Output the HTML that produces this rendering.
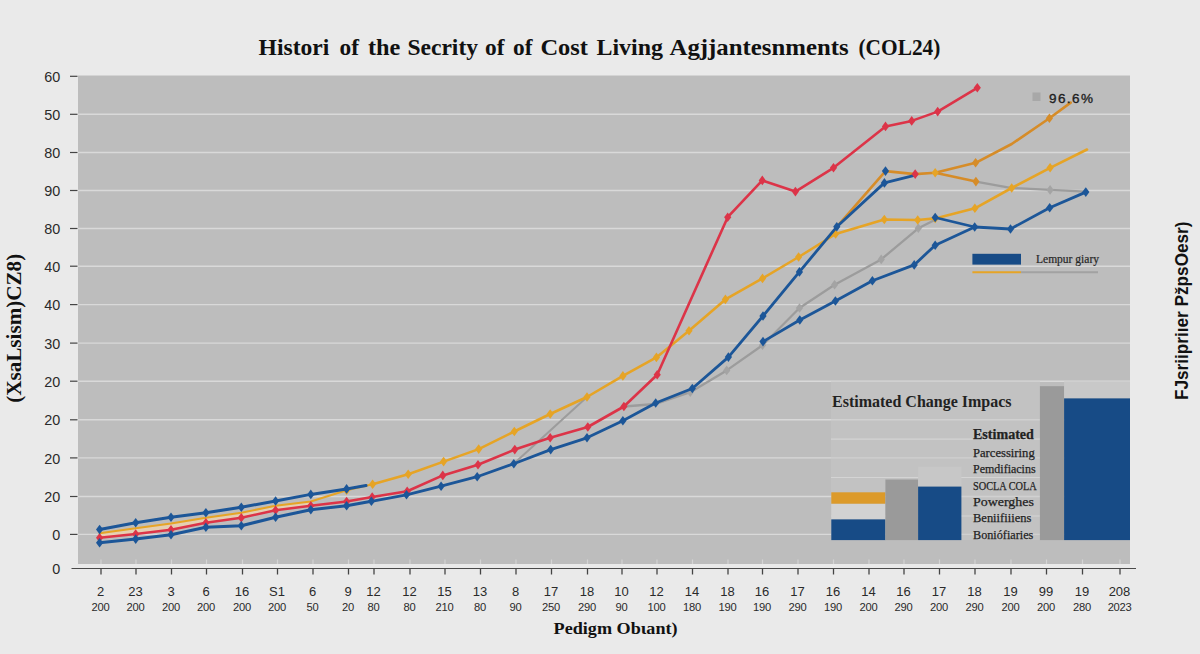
<!DOCTYPE html>
<html lang="en"><head><meta charset="utf-8"><title>History of Cost of Living Adjustments</title>
<style>html,body{margin:0;padding:0;background:#eaeaea;}body{width:1200px;height:654px;overflow:hidden;}svg{display:block;}
.sans{font-family:"Liberation Sans",sans-serif;}.serif{font-family:"Liberation Serif",serif;}</style></head><body>
<svg width="1200" height="654" viewBox="0 0 1200 654">
<rect width="1200" height="654" fill="#eaeaea"/>
<rect x="78" y="75.5" width="1052" height="488.5" fill="#bdbdbd"/>
<line x1="78" x2="1130" y1="114.3" y2="114.3" stroke="#d9d9d9" stroke-width="1.4"/>
<line x1="78" x2="1130" y1="152.5" y2="152.5" stroke="#d9d9d9" stroke-width="1.4"/>
<line x1="78" x2="1130" y1="190.5" y2="190.5" stroke="#d9d9d9" stroke-width="1.4"/>
<line x1="78" x2="1130" y1="228.5" y2="228.5" stroke="#d9d9d9" stroke-width="1.4"/>
<line x1="78" x2="1130" y1="266.2" y2="266.2" stroke="#d9d9d9" stroke-width="1.4"/>
<line x1="78" x2="1130" y1="304.6" y2="304.6" stroke="#d9d9d9" stroke-width="1.4"/>
<line x1="78" x2="1130" y1="343.1" y2="343.1" stroke="#d9d9d9" stroke-width="1.4"/>
<line x1="78" x2="1130" y1="381.2" y2="381.2" stroke="#d9d9d9" stroke-width="1.4"/>
<line x1="78" x2="1130" y1="419.8" y2="419.8" stroke="#d9d9d9" stroke-width="1.4"/>
<line x1="78" x2="1130" y1="457.9" y2="457.9" stroke="#d9d9d9" stroke-width="1.4"/>
<line x1="78" x2="1130" y1="496.5" y2="496.5" stroke="#d9d9d9" stroke-width="1.4"/>
<line x1="78" x2="1130" y1="534.4" y2="534.4" stroke="#d9d9d9" stroke-width="1.4"/>
<rect x="831" y="381" width="209" height="159" fill="#c8c8c8" opacity="0.5"/>
<line x1="831" x2="1040" y1="439.1" y2="439.1" stroke="#d9d9d9" stroke-width="1.2" opacity="0.8"/>
<line x1="831" x2="1040" y1="477.5" y2="477.5" stroke="#d9d9d9" stroke-width="1.2" opacity="0.8"/>
<line x1="831" x2="1040" y1="516.0" y2="516.0" stroke="#d9d9d9" stroke-width="1.2" opacity="0.8"/>
<rect x="831.3" y="503.7" width="54.1" height="15.7" fill="#d2d2d2"/>
<rect x="831.3" y="519.4" width="54.1" height="20.7" fill="#174b86"/>
<rect x="831.3" y="492.3" width="54.1" height="11.4" fill="#dc9a2a"/>
<rect x="885.4" y="479.5" width="32.7" height="60.6" fill="#9a9a9a"/>
<rect x="918.1" y="466.7" width="43.3" height="19.9" fill="#c7c7c7"/>
<rect x="918.1" y="486.6" width="43.3" height="53.5" fill="#174b86"/>
<rect x="1039.9" y="386.2" width="24.2" height="153.9" fill="#9a9a9a"/>
<rect x="1064.1" y="381.4" width="65.9" height="17.0" fill="#c8c8c8"/>
<rect x="1064.1" y="398.4" width="65.9" height="141.7" fill="#174b86"/>
<line x1="101.0" x2="101.0" y1="559.5" y2="564" stroke="#d4d4d4" stroke-width="1.2"/>
<line x1="136.0" x2="136.0" y1="559.5" y2="564" stroke="#d4d4d4" stroke-width="1.2"/>
<line x1="171.5" x2="171.5" y1="559.5" y2="564" stroke="#d4d4d4" stroke-width="1.2"/>
<line x1="206.5" x2="206.5" y1="559.5" y2="564" stroke="#d4d4d4" stroke-width="1.2"/>
<line x1="242.5" x2="242.5" y1="559.5" y2="564" stroke="#d4d4d4" stroke-width="1.2"/>
<line x1="277.5" x2="277.5" y1="559.5" y2="564" stroke="#d4d4d4" stroke-width="1.2"/>
<line x1="313.0" x2="313.0" y1="559.5" y2="564" stroke="#d4d4d4" stroke-width="1.2"/>
<line x1="348.5" x2="348.5" y1="559.5" y2="564" stroke="#d4d4d4" stroke-width="1.2"/>
<line x1="374.0" x2="374.0" y1="559.5" y2="564" stroke="#d4d4d4" stroke-width="1.2"/>
<line x1="410.0" x2="410.0" y1="559.5" y2="564" stroke="#d4d4d4" stroke-width="1.2"/>
<line x1="445.0" x2="445.0" y1="559.5" y2="564" stroke="#d4d4d4" stroke-width="1.2"/>
<line x1="480.5" x2="480.5" y1="559.5" y2="564" stroke="#d4d4d4" stroke-width="1.2"/>
<line x1="516.0" x2="516.0" y1="559.5" y2="564" stroke="#d4d4d4" stroke-width="1.2"/>
<line x1="551.5" x2="551.5" y1="559.5" y2="564" stroke="#d4d4d4" stroke-width="1.2"/>
<line x1="587.5" x2="587.5" y1="559.5" y2="564" stroke="#d4d4d4" stroke-width="1.2"/>
<line x1="622.0" x2="622.0" y1="559.5" y2="564" stroke="#d4d4d4" stroke-width="1.2"/>
<line x1="657.0" x2="657.0" y1="559.5" y2="564" stroke="#d4d4d4" stroke-width="1.2"/>
<line x1="692.5" x2="692.5" y1="559.5" y2="564" stroke="#d4d4d4" stroke-width="1.2"/>
<line x1="728.0" x2="728.0" y1="559.5" y2="564" stroke="#d4d4d4" stroke-width="1.2"/>
<line x1="762.5" x2="762.5" y1="559.5" y2="564" stroke="#d4d4d4" stroke-width="1.2"/>
<line x1="798.0" x2="798.0" y1="559.5" y2="564" stroke="#d4d4d4" stroke-width="1.2"/>
<line x1="833.5" x2="833.5" y1="559.5" y2="564" stroke="#d4d4d4" stroke-width="1.2"/>
<line x1="869.0" x2="869.0" y1="559.5" y2="564" stroke="#d4d4d4" stroke-width="1.2"/>
<line x1="904.0" x2="904.0" y1="559.5" y2="564" stroke="#d4d4d4" stroke-width="1.2"/>
<line x1="939.5" x2="939.5" y1="559.5" y2="564" stroke="#d4d4d4" stroke-width="1.2"/>
<line x1="975.0" x2="975.0" y1="559.5" y2="564" stroke="#d4d4d4" stroke-width="1.2"/>
<line x1="1011.0" x2="1011.0" y1="559.5" y2="564" stroke="#d4d4d4" stroke-width="1.2"/>
<line x1="1046.5" x2="1046.5" y1="559.5" y2="564" stroke="#d4d4d4" stroke-width="1.2"/>
<line x1="1082.5" x2="1082.5" y1="559.5" y2="564" stroke="#d4d4d4" stroke-width="1.2"/>
<line x1="1120.0" x2="1120.0" y1="559.5" y2="564" stroke="#d4d4d4" stroke-width="1.2"/>
<line x1="71.5" x2="1136" y1="568.5" y2="568.5" stroke="#4a4a4a" stroke-width="1.1"/>
<line x1="101.0" x2="101.0" y1="568.5" y2="574.5" stroke="#444" stroke-width="1.3"/>
<line x1="136.0" x2="136.0" y1="568.5" y2="574.5" stroke="#444" stroke-width="1.3"/>
<line x1="171.5" x2="171.5" y1="568.5" y2="574.5" stroke="#444" stroke-width="1.3"/>
<line x1="206.5" x2="206.5" y1="568.5" y2="574.5" stroke="#444" stroke-width="1.3"/>
<line x1="242.5" x2="242.5" y1="568.5" y2="574.5" stroke="#444" stroke-width="1.3"/>
<line x1="277.5" x2="277.5" y1="568.5" y2="574.5" stroke="#444" stroke-width="1.3"/>
<line x1="313.0" x2="313.0" y1="568.5" y2="574.5" stroke="#444" stroke-width="1.3"/>
<line x1="348.5" x2="348.5" y1="568.5" y2="574.5" stroke="#444" stroke-width="1.3"/>
<line x1="374.0" x2="374.0" y1="568.5" y2="574.5" stroke="#444" stroke-width="1.3"/>
<line x1="410.0" x2="410.0" y1="568.5" y2="574.5" stroke="#444" stroke-width="1.3"/>
<line x1="445.0" x2="445.0" y1="568.5" y2="574.5" stroke="#444" stroke-width="1.3"/>
<line x1="480.5" x2="480.5" y1="568.5" y2="574.5" stroke="#444" stroke-width="1.3"/>
<line x1="516.0" x2="516.0" y1="568.5" y2="574.5" stroke="#444" stroke-width="1.3"/>
<line x1="551.5" x2="551.5" y1="568.5" y2="574.5" stroke="#444" stroke-width="1.3"/>
<line x1="587.5" x2="587.5" y1="568.5" y2="574.5" stroke="#444" stroke-width="1.3"/>
<line x1="622.0" x2="622.0" y1="568.5" y2="574.5" stroke="#444" stroke-width="1.3"/>
<line x1="657.0" x2="657.0" y1="568.5" y2="574.5" stroke="#444" stroke-width="1.3"/>
<line x1="692.5" x2="692.5" y1="568.5" y2="574.5" stroke="#444" stroke-width="1.3"/>
<line x1="728.0" x2="728.0" y1="568.5" y2="574.5" stroke="#444" stroke-width="1.3"/>
<line x1="762.5" x2="762.5" y1="568.5" y2="574.5" stroke="#444" stroke-width="1.3"/>
<line x1="798.0" x2="798.0" y1="568.5" y2="574.5" stroke="#444" stroke-width="1.3"/>
<line x1="833.5" x2="833.5" y1="568.5" y2="574.5" stroke="#444" stroke-width="1.3"/>
<line x1="869.0" x2="869.0" y1="568.5" y2="574.5" stroke="#444" stroke-width="1.3"/>
<line x1="904.0" x2="904.0" y1="568.5" y2="574.5" stroke="#444" stroke-width="1.3"/>
<line x1="939.5" x2="939.5" y1="568.5" y2="574.5" stroke="#444" stroke-width="1.3"/>
<line x1="975.0" x2="975.0" y1="568.5" y2="574.5" stroke="#444" stroke-width="1.3"/>
<line x1="1011.0" x2="1011.0" y1="568.5" y2="574.5" stroke="#444" stroke-width="1.3"/>
<line x1="1046.5" x2="1046.5" y1="568.5" y2="574.5" stroke="#444" stroke-width="1.3"/>
<line x1="1082.5" x2="1082.5" y1="568.5" y2="574.5" stroke="#444" stroke-width="1.3"/>
<line x1="1120.0" x2="1120.0" y1="568.5" y2="574.5" stroke="#444" stroke-width="1.3"/>
<line x1="70" x2="77.5" y1="76.3" y2="76.3" stroke="#444" stroke-width="1.2"/>
<text class="sans" x="60.2" y="81.9" font-size="14.4" fill="#2a2a2a" text-anchor="end">60</text>
<line x1="70" x2="77.5" y1="114.3" y2="114.3" stroke="#444" stroke-width="1.2"/>
<text class="sans" x="60.2" y="119.9" font-size="14.4" fill="#2a2a2a" text-anchor="end">50</text>
<line x1="70" x2="77.5" y1="152.5" y2="152.5" stroke="#444" stroke-width="1.2"/>
<text class="sans" x="60.2" y="158.1" font-size="14.4" fill="#2a2a2a" text-anchor="end">80</text>
<line x1="70" x2="77.5" y1="190.5" y2="190.5" stroke="#444" stroke-width="1.2"/>
<text class="sans" x="60.2" y="196.1" font-size="14.4" fill="#2a2a2a" text-anchor="end">90</text>
<line x1="70" x2="77.5" y1="228.5" y2="228.5" stroke="#444" stroke-width="1.2"/>
<text class="sans" x="60.2" y="234.1" font-size="14.4" fill="#2a2a2a" text-anchor="end">80</text>
<line x1="70" x2="77.5" y1="266.2" y2="266.2" stroke="#444" stroke-width="1.2"/>
<text class="sans" x="60.2" y="271.8" font-size="14.4" fill="#2a2a2a" text-anchor="end">40</text>
<line x1="70" x2="77.5" y1="304.6" y2="304.6" stroke="#444" stroke-width="1.2"/>
<text class="sans" x="60.2" y="310.2" font-size="14.4" fill="#2a2a2a" text-anchor="end">40</text>
<line x1="70" x2="77.5" y1="343.1" y2="343.1" stroke="#444" stroke-width="1.2"/>
<text class="sans" x="60.2" y="348.7" font-size="14.4" fill="#2a2a2a" text-anchor="end">30</text>
<line x1="70" x2="77.5" y1="381.2" y2="381.2" stroke="#444" stroke-width="1.2"/>
<text class="sans" x="60.2" y="386.8" font-size="14.4" fill="#2a2a2a" text-anchor="end">20</text>
<line x1="70" x2="77.5" y1="419.8" y2="419.8" stroke="#444" stroke-width="1.2"/>
<text class="sans" x="60.2" y="425.4" font-size="14.4" fill="#2a2a2a" text-anchor="end">20</text>
<line x1="70" x2="77.5" y1="457.9" y2="457.9" stroke="#444" stroke-width="1.2"/>
<text class="sans" x="60.2" y="463.5" font-size="14.4" fill="#2a2a2a" text-anchor="end">20</text>
<line x1="70" x2="77.5" y1="496.5" y2="496.5" stroke="#444" stroke-width="1.2"/>
<text class="sans" x="60.2" y="502.1" font-size="14.4" fill="#2a2a2a" text-anchor="end">20</text>
<line x1="70" x2="77.5" y1="534.4" y2="534.4" stroke="#444" stroke-width="1.2"/>
<text class="sans" x="60.2" y="540.0" font-size="14.4" fill="#2a2a2a" text-anchor="end">0</text>
<text class="sans" x="60.2" y="574.1" font-size="14.4" fill="#2a2a2a" text-anchor="end">0</text>
<text class="sans" x="100.5" y="596.2" font-size="13" fill="#2a2a2a" text-anchor="middle">2</text>
<text class="sans" x="100.5" y="611.3" font-size="11.2" fill="#2a2a2a" text-anchor="middle" letter-spacing="-0.3">200</text>
<text class="sans" x="135.5" y="596.2" font-size="13" fill="#2a2a2a" text-anchor="middle">23</text>
<text class="sans" x="135.5" y="611.3" font-size="11.2" fill="#2a2a2a" text-anchor="middle" letter-spacing="-0.3">200</text>
<text class="sans" x="171.0" y="596.2" font-size="13" fill="#2a2a2a" text-anchor="middle">3</text>
<text class="sans" x="171.0" y="611.3" font-size="11.2" fill="#2a2a2a" text-anchor="middle" letter-spacing="-0.3">200</text>
<text class="sans" x="206.0" y="596.2" font-size="13" fill="#2a2a2a" text-anchor="middle">6</text>
<text class="sans" x="206.0" y="611.3" font-size="11.2" fill="#2a2a2a" text-anchor="middle" letter-spacing="-0.3">200</text>
<text class="sans" x="242.0" y="596.2" font-size="13" fill="#2a2a2a" text-anchor="middle">16</text>
<text class="sans" x="242.0" y="611.3" font-size="11.2" fill="#2a2a2a" text-anchor="middle" letter-spacing="-0.3">200</text>
<text class="sans" x="277.0" y="596.2" font-size="13" fill="#2a2a2a" text-anchor="middle">S1</text>
<text class="sans" x="277.0" y="611.3" font-size="11.2" fill="#2a2a2a" text-anchor="middle" letter-spacing="-0.3">200</text>
<text class="sans" x="312.5" y="596.2" font-size="13" fill="#2a2a2a" text-anchor="middle">6</text>
<text class="sans" x="312.5" y="611.3" font-size="11.2" fill="#2a2a2a" text-anchor="middle" letter-spacing="-0.3">50</text>
<text class="sans" x="348.0" y="596.2" font-size="13" fill="#2a2a2a" text-anchor="middle">9</text>
<text class="sans" x="348.0" y="611.3" font-size="11.2" fill="#2a2a2a" text-anchor="middle" letter-spacing="-0.3">20</text>
<text class="sans" x="373.5" y="596.2" font-size="13" fill="#2a2a2a" text-anchor="middle">12</text>
<text class="sans" x="373.5" y="611.3" font-size="11.2" fill="#2a2a2a" text-anchor="middle" letter-spacing="-0.3">80</text>
<text class="sans" x="409.5" y="596.2" font-size="13" fill="#2a2a2a" text-anchor="middle">12</text>
<text class="sans" x="409.5" y="611.3" font-size="11.2" fill="#2a2a2a" text-anchor="middle" letter-spacing="-0.3">80</text>
<text class="sans" x="444.5" y="596.2" font-size="13" fill="#2a2a2a" text-anchor="middle">15</text>
<text class="sans" x="444.5" y="611.3" font-size="11.2" fill="#2a2a2a" text-anchor="middle" letter-spacing="-0.3">210</text>
<text class="sans" x="480.0" y="596.2" font-size="13" fill="#2a2a2a" text-anchor="middle">13</text>
<text class="sans" x="480.0" y="611.3" font-size="11.2" fill="#2a2a2a" text-anchor="middle" letter-spacing="-0.3">80</text>
<text class="sans" x="515.5" y="596.2" font-size="13" fill="#2a2a2a" text-anchor="middle">8</text>
<text class="sans" x="515.5" y="611.3" font-size="11.2" fill="#2a2a2a" text-anchor="middle" letter-spacing="-0.3">90</text>
<text class="sans" x="551.0" y="596.2" font-size="13" fill="#2a2a2a" text-anchor="middle">17</text>
<text class="sans" x="551.0" y="611.3" font-size="11.2" fill="#2a2a2a" text-anchor="middle" letter-spacing="-0.3">250</text>
<text class="sans" x="587.0" y="596.2" font-size="13" fill="#2a2a2a" text-anchor="middle">18</text>
<text class="sans" x="587.0" y="611.3" font-size="11.2" fill="#2a2a2a" text-anchor="middle" letter-spacing="-0.3">290</text>
<text class="sans" x="621.5" y="596.2" font-size="13" fill="#2a2a2a" text-anchor="middle">10</text>
<text class="sans" x="621.5" y="611.3" font-size="11.2" fill="#2a2a2a" text-anchor="middle" letter-spacing="-0.3">90</text>
<text class="sans" x="656.5" y="596.2" font-size="13" fill="#2a2a2a" text-anchor="middle">12</text>
<text class="sans" x="656.5" y="611.3" font-size="11.2" fill="#2a2a2a" text-anchor="middle" letter-spacing="-0.3">100</text>
<text class="sans" x="692.0" y="596.2" font-size="13" fill="#2a2a2a" text-anchor="middle">14</text>
<text class="sans" x="692.0" y="611.3" font-size="11.2" fill="#2a2a2a" text-anchor="middle" letter-spacing="-0.3">180</text>
<text class="sans" x="727.5" y="596.2" font-size="13" fill="#2a2a2a" text-anchor="middle">18</text>
<text class="sans" x="727.5" y="611.3" font-size="11.2" fill="#2a2a2a" text-anchor="middle" letter-spacing="-0.3">190</text>
<text class="sans" x="762.0" y="596.2" font-size="13" fill="#2a2a2a" text-anchor="middle">16</text>
<text class="sans" x="762.0" y="611.3" font-size="11.2" fill="#2a2a2a" text-anchor="middle" letter-spacing="-0.3">190</text>
<text class="sans" x="797.5" y="596.2" font-size="13" fill="#2a2a2a" text-anchor="middle">17</text>
<text class="sans" x="797.5" y="611.3" font-size="11.2" fill="#2a2a2a" text-anchor="middle" letter-spacing="-0.3">290</text>
<text class="sans" x="833.0" y="596.2" font-size="13" fill="#2a2a2a" text-anchor="middle">16</text>
<text class="sans" x="833.0" y="611.3" font-size="11.2" fill="#2a2a2a" text-anchor="middle" letter-spacing="-0.3">190</text>
<text class="sans" x="868.5" y="596.2" font-size="13" fill="#2a2a2a" text-anchor="middle">14</text>
<text class="sans" x="868.5" y="611.3" font-size="11.2" fill="#2a2a2a" text-anchor="middle" letter-spacing="-0.3">200</text>
<text class="sans" x="903.5" y="596.2" font-size="13" fill="#2a2a2a" text-anchor="middle">16</text>
<text class="sans" x="903.5" y="611.3" font-size="11.2" fill="#2a2a2a" text-anchor="middle" letter-spacing="-0.3">290</text>
<text class="sans" x="939.0" y="596.2" font-size="13" fill="#2a2a2a" text-anchor="middle">17</text>
<text class="sans" x="939.0" y="611.3" font-size="11.2" fill="#2a2a2a" text-anchor="middle" letter-spacing="-0.3">200</text>
<text class="sans" x="974.5" y="596.2" font-size="13" fill="#2a2a2a" text-anchor="middle">18</text>
<text class="sans" x="974.5" y="611.3" font-size="11.2" fill="#2a2a2a" text-anchor="middle" letter-spacing="-0.3">290</text>
<text class="sans" x="1010.5" y="596.2" font-size="13" fill="#2a2a2a" text-anchor="middle">19</text>
<text class="sans" x="1010.5" y="611.3" font-size="11.2" fill="#2a2a2a" text-anchor="middle" letter-spacing="-0.3">200</text>
<text class="sans" x="1046.0" y="596.2" font-size="13" fill="#2a2a2a" text-anchor="middle">99</text>
<text class="sans" x="1046.0" y="611.3" font-size="11.2" fill="#2a2a2a" text-anchor="middle" letter-spacing="-0.3">200</text>
<text class="sans" x="1082.0" y="596.2" font-size="13" fill="#2a2a2a" text-anchor="middle">19</text>
<text class="sans" x="1082.0" y="611.3" font-size="11.2" fill="#2a2a2a" text-anchor="middle" letter-spacing="-0.3">280</text>
<text class="sans" x="1119.5" y="596.2" font-size="13" fill="#2a2a2a" text-anchor="middle">208</text>
<text class="sans" x="1119.5" y="611.3" font-size="11.2" fill="#2a2a2a" text-anchor="middle" letter-spacing="-0.3">2023</text>
<polyline fill="none" stroke="#9c9c9c" stroke-width="2.0" stroke-linejoin="round" stroke-linecap="round" points="513.8,463.7 587.0,397.0"/>
<polyline fill="none" stroke="#9c9c9c" stroke-width="2.3" stroke-linejoin="round" stroke-linecap="round" points="623.9,406.5 655.7,404.0 690.3,392.2 726.7,370.4 762.5,345.3 799.5,308.0 834.6,284.7 881.2,259.4 918.3,228.3 935.2,219.7"/>
<polyline fill="none" stroke="#9c9c9c" stroke-width="2.3" stroke-linejoin="round" stroke-linecap="round" points="975.9,181.6 1010.5,187.9 1050.1,189.9 1085.7,191.6"/>
<path fill="#a4a4a4" d="M690.3 387.4L693.9 392.2L690.3 397.0L686.7 392.2Z"/><path fill="#a4a4a4" d="M726.7 365.6L730.3 370.4L726.7 375.2L723.1 370.4Z"/><path fill="#a4a4a4" d="M762.5 340.5L766.1 345.3L762.5 350.1L758.9 345.3Z"/><path fill="#a4a4a4" d="M799.5 303.2L803.1 308.0L799.5 312.8L795.9 308.0Z"/><path fill="#a4a4a4" d="M834.6 279.9L838.2 284.7L834.6 289.5L831.0 284.7Z"/><path fill="#a4a4a4" d="M881.2 254.6L884.8 259.4L881.2 264.2L877.6 259.4Z"/><path fill="#a4a4a4" d="M918.3 223.5L921.9 228.3L918.3 233.1L914.7 228.3Z"/>
<path fill="#a4a4a4" d="M1050.1 185.1L1053.7 189.9L1050.1 194.7L1046.5 189.9Z"/>
<polygon fill="#ecd2b0" opacity="0.85" points="99.6,533.3 135.7,528.3 171.0,523.5 205.9,517.8 241.3,512.7 275.6,505.7 310.8,501.5 310.8,505.7 275.6,510.2 241.3,517.8 205.9,522.8 171.0,529.8 135.7,534.0 99.6,537.8"/>
<polyline fill="none" stroke="#e6a426" stroke-width="2.0" stroke-linejoin="round" stroke-linecap="round" points="99.6,533.3 135.7,528.3 171.0,523.5 205.9,517.8 241.3,512.7 275.6,505.7 310.8,501.5 346.6,490.2 372.6,484.2"/>
<polyline fill="none" stroke="#e6a426" stroke-width="2.6" stroke-linejoin="round" stroke-linecap="round" points="372.6,484.2 408.2,474.2 443.6,461.6 478.7,449.1 514.3,431.5 550.2,414.0 587.0,397.0 622.9,375.9 656.4,357.4 689.0,330.8 725.4,299.4 762.5,278.4 798.6,257.0 835.6,234.0 884.3,219.5 917.7,220.0 935.2,218.4 974.9,208.3 1011.7,188.0 1050.1,167.8 1087.0,149.5"/>
<path fill="#e6a426" d="M346.6 485.4L350.2 490.2L346.6 495.0L343.0 490.2Z"/><path fill="#e6a426" d="M372.6 479.4L376.2 484.2L372.6 489.0L369.0 484.2Z"/><path fill="#e6a426" d="M408.2 469.4L411.8 474.2L408.2 479.0L404.6 474.2Z"/><path fill="#e6a426" d="M443.6 456.8L447.2 461.6L443.6 466.4L440.0 461.6Z"/><path fill="#e6a426" d="M478.7 444.3L482.3 449.1L478.7 453.9L475.1 449.1Z"/><path fill="#e6a426" d="M514.3 426.7L517.9 431.5L514.3 436.3L510.7 431.5Z"/><path fill="#e6a426" d="M550.2 409.2L553.8 414.0L550.2 418.8L546.6 414.0Z"/><path fill="#e6a426" d="M587.0 392.2L590.6 397.0L587.0 401.8L583.4 397.0Z"/><path fill="#e6a426" d="M622.9 371.1L626.5 375.9L622.9 380.7L619.3 375.9Z"/><path fill="#e6a426" d="M656.4 352.6L660.0 357.4L656.4 362.2L652.8 357.4Z"/><path fill="#e6a426" d="M689.0 326.0L692.6 330.8L689.0 335.6L685.4 330.8Z"/><path fill="#e6a426" d="M725.4 294.6L729.0 299.4L725.4 304.2L721.8 299.4Z"/><path fill="#e6a426" d="M762.5 273.6L766.1 278.4L762.5 283.2L758.9 278.4Z"/><path fill="#e6a426" d="M798.6 252.2L802.2 257.0L798.6 261.8L795.0 257.0Z"/><path fill="#e6a426" d="M835.6 229.2L839.2 234.0L835.6 238.8L832.0 234.0Z"/><path fill="#e6a426" d="M884.3 214.7L887.9 219.5L884.3 224.3L880.7 219.5Z"/><path fill="#e6a426" d="M917.7 215.2L921.3 220.0L917.7 224.8L914.1 220.0Z"/><path fill="#e6a426" d="M935.2 213.6L938.8 218.4L935.2 223.2L931.6 218.4Z"/><path fill="#e6a426" d="M974.9 203.5L978.5 208.3L974.9 213.1L971.3 208.3Z"/><path fill="#e6a426" d="M1011.7 183.2L1015.3 188.0L1011.7 192.8L1008.1 188.0Z"/><path fill="#e6a426" d="M1050.1 163.0L1053.7 167.8L1050.1 172.6L1046.5 167.8Z"/>
<polyline fill="none" stroke="#d68c28" stroke-width="2.6" stroke-linejoin="round" stroke-linecap="round" points="935.2,172.8 975.9,181.6"/>
<polyline fill="none" stroke="#d68c28" stroke-width="2.6" stroke-linejoin="round" stroke-linecap="round" points="836.8,226.8 885.5,171.1 915.2,174.1 935.2,172.8 975.6,162.8 1011.7,144.0 1049.4,118.2 1070.7,102.6"/>
<polyline fill="none" stroke="#dc3448" stroke-width="2.6" stroke-linejoin="round" stroke-linecap="round" points="99.6,537.8 135.7,534.0 171.0,529.8 205.9,522.8 241.3,517.8 275.6,510.2 310.8,505.7 346.6,501.5 372.2,497.0 407.2,491.2 442.8,475.4 478.0,464.7 514.8,449.6 550.2,437.8 587.8,427.0 623.9,406.5 657.2,374.7 727.7,217.2 762.3,180.4 795.4,191.6 833.5,167.8 885.5,126.4 911.7,120.9 937.7,111.6 977.3,87.8"/>
<path fill="#dc3448" d="M99.6 533.0L103.2 537.8L99.6 542.6L96.0 537.8Z"/><path fill="#dc3448" d="M135.7 529.2L139.3 534.0L135.7 538.8L132.1 534.0Z"/><path fill="#dc3448" d="M171.0 525.0L174.6 529.8L171.0 534.6L167.4 529.8Z"/><path fill="#dc3448" d="M205.9 518.0L209.5 522.8L205.9 527.6L202.3 522.8Z"/><path fill="#dc3448" d="M241.3 513.0L244.9 517.8L241.3 522.6L237.7 517.8Z"/><path fill="#dc3448" d="M275.6 505.4L279.2 510.2L275.6 515.0L272.0 510.2Z"/><path fill="#dc3448" d="M310.8 500.9L314.4 505.7L310.8 510.5L307.2 505.7Z"/><path fill="#dc3448" d="M346.6 496.7L350.2 501.5L346.6 506.3L343.0 501.5Z"/><path fill="#dc3448" d="M372.2 492.2L375.8 497.0L372.2 501.8L368.6 497.0Z"/><path fill="#dc3448" d="M407.2 486.4L410.8 491.2L407.2 496.0L403.6 491.2Z"/><path fill="#dc3448" d="M442.8 470.6L446.4 475.4L442.8 480.2L439.2 475.4Z"/><path fill="#dc3448" d="M478.0 459.9L481.6 464.7L478.0 469.5L474.4 464.7Z"/><path fill="#dc3448" d="M514.8 444.8L518.4 449.6L514.8 454.4L511.2 449.6Z"/><path fill="#dc3448" d="M550.2 433.0L553.8 437.8L550.2 442.6L546.6 437.8Z"/><path fill="#dc3448" d="M587.8 422.2L591.4 427.0L587.8 431.8L584.2 427.0Z"/><path fill="#dc3448" d="M623.9 401.7L627.5 406.5L623.9 411.3L620.3 406.5Z"/><path fill="#dc3448" d="M657.2 369.9L660.8 374.7L657.2 379.5L653.6 374.7Z"/><path fill="#dc3448" d="M727.7 212.4L731.3 217.2L727.7 222.0L724.1 217.2Z"/><path fill="#dc3448" d="M762.3 175.6L765.9 180.4L762.3 185.2L758.7 180.4Z"/><path fill="#dc3448" d="M795.4 186.8L799.0 191.6L795.4 196.4L791.8 191.6Z"/><path fill="#dc3448" d="M833.5 163.0L837.1 167.8L833.5 172.6L829.9 167.8Z"/><path fill="#dc3448" d="M885.5 121.6L889.1 126.4L885.5 131.2L881.9 126.4Z"/><path fill="#dc3448" d="M911.7 116.1L915.3 120.9L911.7 125.7L908.1 120.9Z"/><path fill="#dc3448" d="M937.7 106.8L941.3 111.6L937.7 116.4L934.1 111.6Z"/><path fill="#dc3448" d="M977.3 83.0L980.9 87.8L977.3 92.6L973.7 87.8Z"/>
<polyline fill="none" stroke="#1c5698" stroke-width="3.0" stroke-linejoin="round" stroke-linecap="round" points="99.6,529.5 135.7,522.8 171.0,517.3 205.9,512.7 241.3,507.2 275.6,501.0 310.8,494.4 346.6,488.9 366.0,485.5"/>
<path fill="#1c5698" d="M99.6 524.7L103.2 529.5L99.6 534.3L96.0 529.5Z"/><path fill="#1c5698" d="M135.7 518.0L139.3 522.8L135.7 527.6L132.1 522.8Z"/><path fill="#1c5698" d="M171.0 512.5L174.6 517.3L171.0 522.1L167.4 517.3Z"/><path fill="#1c5698" d="M205.9 507.9L209.5 512.7L205.9 517.5L202.3 512.7Z"/><path fill="#1c5698" d="M241.3 502.4L244.9 507.2L241.3 512.0L237.7 507.2Z"/><path fill="#1c5698" d="M275.6 496.2L279.2 501.0L275.6 505.8L272.0 501.0Z"/><path fill="#1c5698" d="M310.8 489.6L314.4 494.4L310.8 499.2L307.2 494.4Z"/><path fill="#1c5698" d="M346.6 484.1L350.2 488.9L346.6 493.7L343.0 488.9Z"/>
<polyline fill="none" stroke="#1c5698" stroke-width="2.8" stroke-linejoin="round" stroke-linecap="round" points="763.0,341.6 799.8,320.0 835.4,301.0 872.4,280.8 914.2,264.9 935.2,245.2 974.7,227.0 1010.5,229.0 1049.7,207.7 1085.8,192.1"/>
<polyline fill="none" stroke="#1c5698" stroke-width="2.8" stroke-linejoin="round" stroke-linecap="round" points="935.2,217.5 974.7,227.0"/>
<path fill="#1c5698" d="M763.0 336.8L766.6 341.6L763.0 346.4L759.4 341.6Z"/><path fill="#1c5698" d="M799.8 315.2L803.4 320.0L799.8 324.8L796.2 320.0Z"/><path fill="#1c5698" d="M835.4 296.2L839.0 301.0L835.4 305.8L831.8 301.0Z"/><path fill="#1c5698" d="M872.4 276.0L876.0 280.8L872.4 285.6L868.8 280.8Z"/><path fill="#1c5698" d="M914.2 260.1L917.8 264.9L914.2 269.7L910.6 264.9Z"/><path fill="#1c5698" d="M935.2 240.4L938.8 245.2L935.2 250.0L931.6 245.2Z"/><path fill="#1c5698" d="M974.7 222.2L978.3 227.0L974.7 231.8L971.1 227.0Z"/><path fill="#1c5698" d="M1010.5 224.2L1014.1 229.0L1010.5 233.8L1006.9 229.0Z"/><path fill="#1c5698" d="M1049.7 202.9L1053.3 207.7L1049.7 212.5L1046.1 207.7Z"/><path fill="#1c5698" d="M1085.8 187.3L1089.4 192.1L1085.8 196.9L1082.2 192.1Z"/>
<polyline fill="none" stroke="#1c5698" stroke-width="3.0" stroke-linejoin="round" stroke-linecap="round" points="99.6,542.8 135.7,539.1 171.0,534.8 205.9,527.3 241.3,525.8 275.6,517.3 310.8,509.7 346.6,505.7 371.4,501.3"/>
<polyline fill="none" stroke="#1c5698" stroke-width="2.8" stroke-linejoin="round" stroke-linecap="round" points="371.4,501.3 406.5,494.8 441.1,486.2 477.2,476.7 513.8,463.7 550.7,449.6 587.0,437.8 622.9,420.8 655.7,403.0 692.3,388.5 728.4,357.1 763.0,316.0 799.4,271.9 836.8,226.8 884.4,182.9 914.5,175.3"/>
<path fill="#1c5698" d="M99.6 538.0L103.2 542.8L99.6 547.6L96.0 542.8Z"/><path fill="#1c5698" d="M135.7 534.3L139.3 539.1L135.7 543.9L132.1 539.1Z"/><path fill="#1c5698" d="M171.0 530.0L174.6 534.8L171.0 539.6L167.4 534.8Z"/><path fill="#1c5698" d="M205.9 522.5L209.5 527.3L205.9 532.1L202.3 527.3Z"/><path fill="#1c5698" d="M241.3 521.0L244.9 525.8L241.3 530.6L237.7 525.8Z"/><path fill="#1c5698" d="M275.6 512.5L279.2 517.3L275.6 522.1L272.0 517.3Z"/><path fill="#1c5698" d="M310.8 504.9L314.4 509.7L310.8 514.5L307.2 509.7Z"/><path fill="#1c5698" d="M346.6 500.9L350.2 505.7L346.6 510.5L343.0 505.7Z"/><path fill="#1c5698" d="M371.4 496.5L375.0 501.3L371.4 506.1L367.8 501.3Z"/><path fill="#1c5698" d="M406.5 490.0L410.1 494.8L406.5 499.6L402.9 494.8Z"/><path fill="#1c5698" d="M441.1 481.4L444.7 486.2L441.1 491.0L437.5 486.2Z"/><path fill="#1c5698" d="M477.2 471.9L480.8 476.7L477.2 481.5L473.6 476.7Z"/><path fill="#1c5698" d="M513.8 458.9L517.4 463.7L513.8 468.5L510.2 463.7Z"/><path fill="#1c5698" d="M550.7 444.8L554.3 449.6L550.7 454.4L547.1 449.6Z"/><path fill="#1c5698" d="M587.0 433.0L590.6 437.8L587.0 442.6L583.4 437.8Z"/><path fill="#1c5698" d="M622.9 416.0L626.5 420.8L622.9 425.6L619.3 420.8Z"/><path fill="#1c5698" d="M655.7 398.2L659.3 403.0L655.7 407.8L652.1 403.0Z"/><path fill="#1c5698" d="M692.3 383.7L695.9 388.5L692.3 393.3L688.7 388.5Z"/><path fill="#1c5698" d="M728.4 352.3L732.0 357.1L728.4 361.9L724.8 357.1Z"/><path fill="#1c5698" d="M763.0 311.2L766.6 316.0L763.0 320.8L759.4 316.0Z"/><path fill="#1c5698" d="M799.4 267.1L803.0 271.9L799.4 276.7L795.8 271.9Z"/><path fill="#1c5698" d="M836.8 222.0L840.4 226.8L836.8 231.6L833.2 226.8Z"/><path fill="#1c5698" d="M884.4 178.1L888.0 182.9L884.4 187.7L880.8 182.9Z"/>
<path fill="#d68c28" d="M975.6 158.0L979.2 162.8L975.6 167.6L972.0 162.8Z"/><path fill="#d68c28" d="M1049.4 113.4L1053.0 118.2L1049.4 123.0L1045.8 118.2Z"/>
<path fill="#d68c28" d="M975.9 176.8L979.5 181.6L975.9 186.4L972.3 181.6Z"/>
<path fill="#1c5698" d="M885.5 166.3L889.1 171.1L885.5 175.9L881.9 171.1Z"/>
<path fill="#dc3448" d="M915.2 169.3L918.8 174.1L915.2 178.9L911.6 174.1Z"/>
<path fill="#e6a426" d="M935.2 168.0L938.8 172.8L935.2 177.6L931.6 172.8Z"/>
<path fill="#1c5698" d="M935.2 212.7L938.8 217.5L935.2 222.3L931.6 217.5Z"/>
<rect x="1032.5" y="92.5" width="8" height="8.5" fill="#a8a8a8"/>
<text class="sans" x="1048.9" y="103.4" font-size="13.5" fill="#1e1e1e" stroke="#1e1e1e" stroke-width="0.35" textLength="44.2" lengthAdjust="spacing">96.6%</text>
<rect x="972.4" y="253.8" width="48.6" height="10.8" fill="#174b86"/>
<text class="serif" x="1036" y="263.3" font-size="11.8" fill="#262626" stroke="#262626" stroke-width="0.2" textLength="63" lengthAdjust="spacingAndGlyphs">Lempur giary</text>
<line x1="972.4" x2="1021" y1="272.2" y2="272.2" stroke="#e6a426" stroke-width="2"/>
<line x1="1021" x2="1098" y1="272.2" y2="272.2" stroke="#a2a2a2" stroke-width="2"/>
<text class="serif" x="832" y="407" font-size="16" font-weight="bold" fill="#222">Estimated Change Impacs</text>
<text class="serif" x="973" y="439.1" font-size="14" font-weight="bold" fill="#222" stroke="#222" stroke-width="0.25" textLength="60.9" lengthAdjust="spacingAndGlyphs">Estimated</text>
<text class="serif" x="973" y="456.8" font-size="13" fill="#222" stroke="#222" stroke-width="0.25" textLength="61.7" lengthAdjust="spacingAndGlyphs">Parcessiring</text>
<text class="serif" x="973" y="473.3" font-size="13" fill="#222" stroke="#222" stroke-width="0.25" textLength="62.6" lengthAdjust="spacingAndGlyphs">Pemdifiacins</text>
<text class="serif" x="973" y="490.0" font-size="13" fill="#222" stroke="#222" stroke-width="0.25" textLength="63.7" lengthAdjust="spacingAndGlyphs">SOCLA COLA</text>
<text class="serif" x="973" y="506.0" font-size="13" fill="#222" stroke="#222" stroke-width="0.25" textLength="60.9" lengthAdjust="spacingAndGlyphs">Powerghes</text>
<text class="serif" x="973" y="522.2" font-size="13" fill="#222" stroke="#222" stroke-width="0.25" textLength="58.3" lengthAdjust="spacingAndGlyphs">Beniifiiiens</text>
<text class="serif" x="973" y="538.7" font-size="13" fill="#222" stroke="#222" stroke-width="0.25" textLength="60.3" lengthAdjust="spacingAndGlyphs">Boniófiaries</text>
<g class="serif" font-size="23.4" font-weight="bold" fill="#111">
<text x="258.6" y="55.1" textLength="70.8" lengthAdjust="spacingAndGlyphs">Histori</text>
<text x="339.6" y="55.1">of</text>
<text x="368.0" y="55.1" textLength="32.4" lengthAdjust="spacingAndGlyphs">the</text>
<text x="407.4" y="55.1" textLength="70.6" lengthAdjust="spacingAndGlyphs">Secrity</text>
<text x="485.0" y="55.1">of</text>
<text x="513.0" y="55.1">of</text>
<text x="540.4" y="55.1" textLength="47.6" lengthAdjust="spacingAndGlyphs">Cost</text>
<text x="596.4" y="55.1" textLength="66.6" lengthAdjust="spacingAndGlyphs">Living</text>
<text x="669.5" y="55.1" textLength="179.1" lengthAdjust="spacingAndGlyphs">Agjjantesnments</text>
<text x="858.5" y="55.1" textLength="81.9" lengthAdjust="spacingAndGlyphs">(COL24)</text>
</g>
<text class="serif" x="553.6" y="634" font-size="17.4" font-weight="bold" fill="#111" textLength="124" lengthAdjust="spacingAndGlyphs">Pedigm Obιant)</text>
<text class="serif" transform="translate(21.4,402.8) rotate(-90)" font-size="20" font-weight="bold" fill="#111" textLength="149" lengthAdjust="spacingAndGlyphs">(XsaLsism)CZ8)</text>
<text class="sans" transform="translate(1187.6,400) rotate(-90)" font-size="19" font-weight="bold" fill="#111" textLength="178.5" lengthAdjust="spacingAndGlyphs">FJsriipriıer PžpsOesr)</text>
</svg></body></html>
